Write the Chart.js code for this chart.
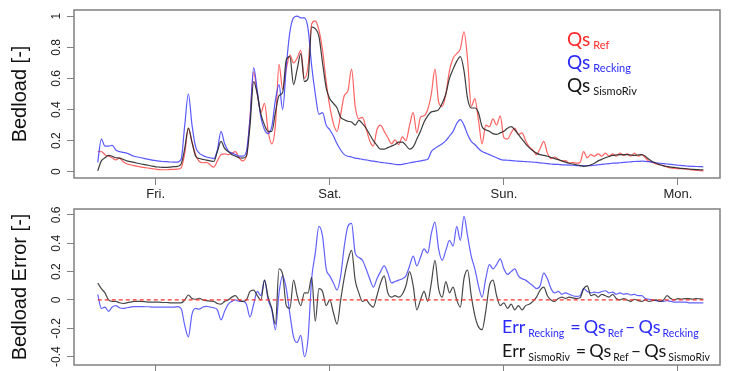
<!DOCTYPE html>
<html><head><meta charset="utf-8">
<script src="https://cdn.jsdelivr.net/npm/chart.js@4.4.1/dist/chart.umd.min.js"></script>
<style>
html,body{margin:0;padding:0;background:#fff;overflow:hidden;width:731px;height:371px}
#top{position:absolute;left:0;top:0}
#bot{position:absolute;left:0;top:195px}
</style></head><body>
<canvas id="top" width="731" height="205"></canvas>
<canvas id="bot" width="731" height="215"></canvas>
<script>
// time in hours relative to Friday 00:00
const hours = [-8,-7.5,-7,-6.5,-6,-5.5,-5,-4.5,-4,-3.5,
-3,-2.5,-2,-1.5,-1,-0.5,0,0.5,1,1.5,
2,2.5,3,3.5,4,4.5,5,5.5,6,6.5,
7,7.5,8,8.5,9,9.5,10,10.5,11,11.5,
12,12.5,13,13.5,14,14.5,15,15.5,16,16.5,
17,17.5,18,18.5,19,19.5,20,20.5,21,21.5,
22,22.5,23,23.5,24,24.5,25,25.5,26,26.5,
27,27.5,28,28.5,29,29.5,30,30.5,31,31.5,
32,32.5,33,33.5,34,34.5,35,35.5,36,36.5,
37,37.5,38,38.5,39,39.5,40,40.5,41,41.5,
42,42.5,43,43.5,44,44.5,45,45.5,46,46.5,
47,47.5,48,48.5,49,49.5,50,50.5,51,51.5,
52,52.5,53,53.5,54,54.5,55,55.5,56,56.5,
57,57.5,58,58.5,59,59.5,60,60.5,61,61.5,
62,62.5,63,63.5,64,64.5,65,65.5,66,66.5,
67,67.5,68,68.5,69,69.5,70,70.5,71,71.5,
72,72.5,73,73.5,74,74.5,75,75.5];

const qsRef = [0.13,0.13,0.11,0.10,0.09,0.077,0.088,0.065,0.052,0.045,
0.04,0.035,0.03,0.027,0.024,0.02,0.017,0.014,0.013,0.013,
0.015,0.016,0.017,0.025,0.12,0.28,0.19,0.11,0.066,0.058,
0.06,0.045,0.03,0.07,0.11,0.115,0.11,0.12,0.13,0.09,
0.07,0.10,0.35,0.64,0.5,0.38,0.44,0.26,0.18,0.3,
0.69,0.53,0.66,0.75,0.70,0.73,0.78,0.60,0.68,0.95,
0.97,0.91,0.78,0.58,0.42,0.31,0.26,0.37,0.49,0.52,
0.66,0.42,0.34,0.35,0.28,0.20,0.165,0.27,0.30,0.26,
0.22,0.18,0.205,0.175,0.225,0.20,0.30,0.38,0.25,0.35,
0.36,0.40,0.50,0.66,0.45,0.42,0.50,0.65,0.73,0.76,
0.79,0.90,0.72,0.42,0.47,0.33,0.18,0.30,0.29,0.34,
0.30,0.36,0.22,0.21,0.25,0.28,0.24,0.25,0.20,0.16,
0.14,0.11,0.15,0.195,0.12,0.085,0.095,0.08,0.07,0.072,
0.056,0.06,0.055,0.06,0.13,0.09,0.11,0.10,0.115,0.10,
0.12,0.10,0.115,0.10,0.12,0.105,0.115,0.10,0.12,0.10,
0.11,0.09,0.067,0.06,0.05,0.045,0.04,0.03,0.025,0.022,
0.02,0.02,0.018,0.015,0.012,0.01,0.008,0.006];

const qsRecking = [0.06,0.21,0.165,0.165,0.17,0.14,0.13,0.125,0.12,0.11,
0.10,0.095,0.09,0.085,0.08,0.075,0.072,0.068,0.066,0.065,
0.063,0.062,0.062,0.08,0.30,0.50,0.30,0.16,0.12,0.105,
0.095,0.09,0.085,0.14,0.26,0.18,0.135,0.12,0.11,0.10,
0.10,0.13,0.34,0.67,0.52,0.35,0.27,0.245,0.29,0.46,
0.56,0.40,0.68,0.90,0.99,1.0,0.99,0.99,0.92,0.68,
0.50,0.37,0.38,0.30,0.27,0.23,0.18,0.14,0.11,0.10,
0.095,0.088,0.085,0.08,0.076,0.072,0.068,0.065,0.06,0.058,
0.055,0.052,0.048,0.046,0.048,0.052,0.058,0.062,0.066,0.07,
0.075,0.08,0.13,0.15,0.165,0.18,0.20,0.23,0.26,0.31,
0.335,0.30,0.24,0.195,0.175,0.15,0.13,0.12,0.11,0.10,
0.09,0.08,0.075,0.074,0.072,0.07,0.068,0.067,0.065,0.064,
0.062,0.06,0.057,0.055,0.052,0.05,0.048,0.047,0.045,0.044,
0.043,0.042,0.04,0.039,0.038,0.039,0.04,0.042,0.045,0.048,
0.05,0.052,0.055,0.056,0.058,0.06,0.062,0.064,0.066,0.067,
0.068,0.067,0.065,0.062,0.058,0.055,0.052,0.05,0.048,0.045,
0.042,0.04,0.038,0.036,0.035,0.034,0.033,0.032];

const qsSismoRiv = [0.006,0.07,0.09,0.105,0.10,0.09,0.088,0.08,0.07,0.065,
0.06,0.055,0.05,0.046,0.042,0.036,0.032,0.03,0.028,0.028,
0.03,0.033,0.035,0.05,0.15,0.28,0.19,0.10,0.085,0.08,
0.075,0.07,0.066,0.13,0.195,0.15,0.13,0.11,0.10,0.09,
0.088,0.10,0.30,0.58,0.50,0.37,0.30,0.26,0.26,0.38,
0.49,0.51,0.72,0.74,0.56,0.66,0.76,0.58,0.60,0.93,
0.92,0.87,0.70,0.54,0.47,0.44,0.41,0.35,0.335,0.325,
0.32,0.30,0.33,0.31,0.28,0.24,0.20,0.17,0.145,0.145,
0.155,0.165,0.175,0.19,0.19,0.17,0.145,0.16,0.21,0.26,
0.32,0.36,0.385,0.39,0.40,0.44,0.50,0.60,0.66,0.71,
0.74,0.65,0.47,0.41,0.41,0.38,0.29,0.27,0.26,0.245,
0.24,0.25,0.26,0.28,0.29,0.27,0.24,0.21,0.18,0.155,
0.135,0.12,0.11,0.105,0.10,0.092,0.085,0.078,0.07,0.062,
0.055,0.05,0.045,0.04,0.035,0.038,0.045,0.055,0.07,0.08,
0.09,0.098,0.105,0.108,0.11,0.11,0.11,0.108,0.105,0.108,
0.11,0.10,0.08,0.065,0.055,0.045,0.038,0.034,0.03,0.028,
0.025,0.022,0.02,0.018,0.016,0.014,0.013,0.012];

const errRecking = [0.04,-0.06,-0.05,-0.08,-0.05,-0.04,-0.055,-0.06,-0.055,-0.05,
-0.047,-0.047,-0.047,-0.048,-0.048,-0.05,-0.05,-0.05,-0.05,-0.05,
-0.05,-0.05,-0.047,-0.06,-0.18,-0.26,-0.10,-0.06,-0.065,-0.05,
-0.045,-0.05,-0.055,-0.07,-0.14,-0.08,-0.03,-0.01,0.0,-0.01,
-0.01,-0.03,-0.12,-0.03,0.06,0.03,0.14,0.0,-0.07,-0.21,
0.05,0.17,0.08,-0.10,-0.26,-0.30,-0.25,-0.40,-0.27,0.15,
0.33,0.52,0.45,0.22,0.17,0.12,0.07,0.17,0.38,0.52,
0.54,0.33,0.30,0.28,0.22,0.15,0.09,0.15,0.20,0.24,
0.19,0.12,0.13,0.14,0.15,0.17,0.24,0.31,0.24,0.30,
0.36,0.33,0.47,0.55,0.36,0.28,0.35,0.42,0.38,0.52,
0.42,0.59,0.45,0.31,0.22,0.10,0.02,0.15,0.25,0.22,
0.25,0.29,0.22,0.18,0.20,0.22,0.17,0.15,0.14,0.12,
0.10,0.08,0.10,0.19,0.15,0.08,0.05,0.06,0.04,0.05,
0.04,0.03,0.025,0.03,0.08,0.06,0.05,0.055,0.05,0.06,
0.065,0.05,0.055,0.04,0.05,0.04,0.045,0.035,0.04,0.03,
0.03,0.01,0.005,0.0,-0.005,-0.01,-0.01,-0.005,-0.01,-0.015,
-0.015,-0.015,-0.015,-0.02,-0.02,-0.02,-0.02,-0.02];

const errSismoRiv = [0.12,0.08,0.05,0.0,-0.01,-0.01,-0.02,-0.025,-0.02,-0.015,
-0.01,-0.01,-0.01,-0.012,-0.015,-0.015,-0.015,-0.015,-0.018,-0.018,
-0.02,-0.02,-0.02,-0.02,0.0,0.035,0.01,0.005,0.012,0.0,
-0.005,-0.008,-0.01,-0.025,-0.03,-0.01,0.0,0.02,0.03,0.0,
-0.01,0.0,0.06,0.07,0.03,0.0,0.14,0.02,-0.06,-0.17,
0.22,0.18,-0.04,-0.06,0.14,0.03,-0.04,0.05,0.05,0.16,
-0.15,0.08,0.06,-0.04,0.0,-0.09,-0.17,0.0,0.16,0.28,
0.35,0.14,0.05,-0.01,0.0,-0.03,-0.05,0.03,0.12,0.17,
0.05,0.02,0.03,0.02,0.04,0.10,0.20,0.10,-0.07,0.0,
0.06,-0.01,0.12,0.28,0.08,0.02,0.13,0.05,0.09,0.0,
-0.05,0.15,0.21,0.03,-0.11,-0.19,-0.21,-0.08,0.10,0.14,
0.03,-0.04,-0.02,-0.06,-0.03,-0.07,-0.04,-0.07,-0.04,-0.03,
-0.01,0.02,0.07,0.09,0.03,0.0,-0.01,0.01,0.02,0.01,
0.02,0.015,0.01,0.015,0.08,0.1,0.03,0.04,0.02,0.04,
0.03,0.02,0.04,0.01,0.0,0.01,0.0,-0.01,0.005,-0.005,
-0.01,0.0,-0.01,-0.005,0.0,-0.01,0.0,0.03,0.01,0.0,
0.01,0.005,0.01,0.01,0.005,0.01,0.008,0.005];

const dayTicks = [0, 24, 48, 72];
const dayLabels = ['Fri.', 'Sat.', 'Sun.', 'Mon.'];
const topYTicks = [0, 0.2, 0.4, 0.6, 0.8, 1];
const topYLabels = ['0', '0.2', '0.4', '0.6', '0.8', '1'];
const botYTicks = [-0.4, -0.2, 0, 0.2, 0.4, 0.6];
const botYLabels = ['-0.4', '-0.2', '0', '0.2', '0.4', '0.6'];
const xRange = [-11.27, 77.8];
const topYRange = [-0.04, 1.04];
const botYRange = [-0.459, 0.642];

Chart.defaults.font.family = 'Liberation Sans';

const AXIS_GRAY = '#808080';
const boxPlugin = {
  id: 'box',
  afterDraw(chart) {
    const {ctx, chartArea: a} = chart;
    ctx.save();
    ctx.strokeStyle = AXIS_GRAY;
    ctx.lineWidth = 1.5;
    ctx.strokeRect(a.left, a.top, a.right - a.left, a.bottom - a.top);
    ctx.restore();
  }
};

function drawRich(ctx, x, y, parts, color) {
  ctx.save();
  ctx.fillStyle = color;
  ctx.textBaseline = 'alphabetic';
  ctx.textAlign = 'left';
  let cx = x;
  for (const p of parts) {
    cx += (p.gap || 0);
    ctx.font = p.size + 'px Lato';
    ctx.fillText(p.t, cx, y + (p.dy || 0));
    cx += ctx.measureText(p.t).width;
  }
  ctx.restore();
}

function xScale(showLabels, height) {
  return {
    type: 'linear', min: xRange[0], max: xRange[1],
    afterBuildTicks: s => { s.ticks = dayTicks.map(v => ({value: v})); },
    afterFit: s => { s.height = height; },
    grid: {display: true, drawOnChartArea: false, drawTicks: true, tickLength: 7, color: AXIS_GRAY, lineWidth: 1},
    border: {display: false},
    ticks: {display: showLabels, autoSkip: false, maxRotation: 0, minRotation: 0, padding: 2,
      color: '#222', font: {family: 'Liberation Sans', size: 13},
      callback: (v, i) => dayLabels[i]}
  };
}
function yScale(range, tickVals, labels, title, pad) {
  return {
    type: 'linear', min: range[0], max: range[1],
    afterBuildTicks: s => { s.ticks = tickVals.map(v => ({value: v})); },
    afterFit: s => { s.width = 74; },
    grid: {display: true, drawOnChartArea: false, drawTicks: true, tickLength: 7, color: AXIS_GRAY, lineWidth: 1},
    border: {display: false},
    ticks: {autoSkip: false, minRotation: 90, maxRotation: 90, crossAlign: 'center', padding: pad,
      color: '#222', font: {family: 'Liberation Sans', size: 12},
      callback: (v, i) => labels[i]},
    title: {display: true, text: title, color: '#111', font: {family: 'Liberation Sans', size: 20},
      padding: {top: 8, bottom: 0}}
  };
}
function ds(label, values, color, width, order) {
  return {label, data: hours.map((h, i) => ({x: h, y: values[i]})), borderColor: color,
    borderWidth: width, pointRadius: 0, fill: false, cubicInterpolationMode: 'monotone', order};
}

const topLegend = {
  id: 'topLegend',
  afterDraw(chart) {
    const ctx = chart.ctx;
    drawRich(ctx, 567, 46, [{t: 'Qs', size: 19}, {t: 'Ref', size: 11, gap: 3, dy: 3}], '#ff2a2a');
    drawRich(ctx, 567, 68.5, [{t: 'Qs', size: 19}, {t: 'Recking', size: 11, gap: 3, dy: 3.5}], '#2a2aff');
    drawRich(ctx, 567, 91.5, [{t: 'Qs', size: 19}, {t: 'SismoRiv', size: 11, gap: 3, dy: 3.5}], '#151515');
  }
};
const botLegend = {
  id: 'botLegend',
  afterDraw(chart) {
    const ctx = chart.ctx;
    const mk = sub => [{t: 'Err', size: 18}, {t: sub, size: 10.5, gap: 3, dy: 4},
      {t: '=', size: 18, gap: 6}, {t: 'Qs', size: 18, gap: 3}, {t: 'Ref', size: 10.5, gap: 2, dy: 4},
      {t: '\u2013', size: 18, gap: 2}, {t: 'Qs', size: 18, gap: 3}, {t: sub, size: 10.5, gap: 2, dy: 4}];
    drawRich(ctx, 502, 333 - 195, mk('Recking'), '#2a2aff');
    drawRich(ctx, 502, 357 - 195, mk('SismoRiv'), '#151515');
  }
};

new Chart(document.getElementById('top'), {
  type: 'line',
  data: {datasets: [
    ds('Qs Ref', qsRef, 'rgba(255,70,70,0.85)', 1.2, 3),
    ds('Qs Recking', qsRecking, 'rgba(70,70,255,0.9)', 1.2, 2),
    ds('Qs SismoRiv', qsSismoRiv, 'rgba(40,40,40,0.9)', 1.2, 1)
  ]},
  options: {
    responsive: false, animation: false, devicePixelRatio: 1,
    layout: {padding: {left: 0, right: 11, top: 10, bottom: 0}},
    plugins: {legend: {display: false}, tooltip: {enabled: false}},
    scales: {x: xScale(true, 27), y: yScale(topYRange, topYTicks, topYLabels, 'Bedload [-]', 2)}
  },
  plugins: [boxPlugin, topLegend]
});

new Chart(document.getElementById('bot'), {
  type: 'line',
  data: {datasets: [
    {label: 'zero', data: [{x: hours[0], y: 0}, {x: hours[hours.length - 1], y: 0}],
      borderColor: 'rgba(255,50,50,1)', borderWidth: 1.2, borderDash: [4, 3], pointRadius: 0, order: 0},
    ds('Err Recking', errRecking, 'rgba(80,80,255,0.9)', 1.2, 2),
    ds('Err SismoRiv', errSismoRiv, 'rgba(40,40,40,0.85)', 1.2, 1)
  ]},
  options: {
    responsive: false, animation: false, devicePixelRatio: 1,
    layout: {padding: {left: 0, right: 11, top: 14, bottom: 0}},
    plugins: {legend: {display: false}, tooltip: {enabled: false}},
    scales: {x: xScale(false, 45), y: yScale(botYRange, botYTicks, botYLabels, 'Bedload Error [-]', 0)}
  },
  plugins: [boxPlugin, botLegend]
});
</script>
</body></html>
